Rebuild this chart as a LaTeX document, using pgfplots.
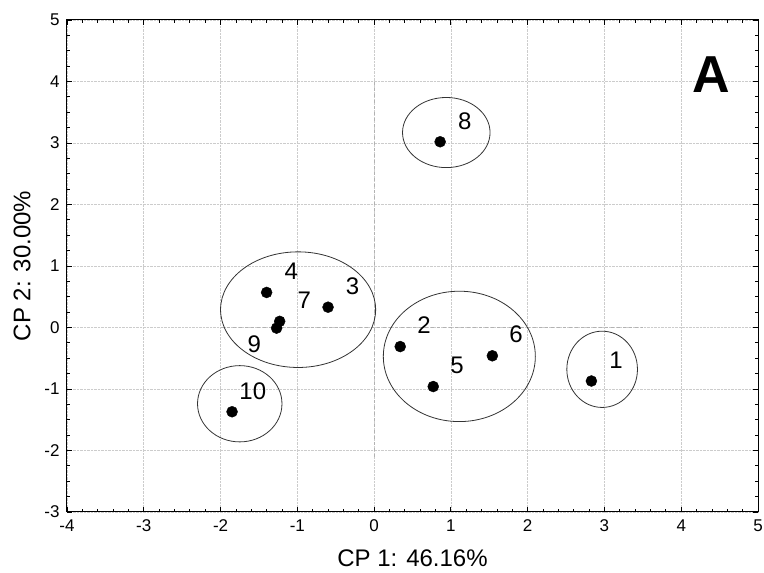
\documentclass[border=0pt]{standalone}
\usepackage{pgfplots}
\pgfplotsset{compat=1.18}
\usepackage{fontspec}
\setmainfont{Liberation Sans}
\newcommand{\tickfont}{\fontsize{17}{19}\selectfont}
\begin{document}
\begin{tikzpicture}
\begin{axis}[
 scale only axis, width=691pt, height=492pt,
 xmin=-4, xmax=5, ymin=-3, ymax=5,
 xtick={-4,...,5}, ytick={-3,...,5},
 minor x tick num=4, minor y tick num=3,
 tick align=inside, major tick length=5pt, minor tick length=3pt,
 tick style={black, line width=0.8pt},
 grid=major, grid style={densely dotted, gray!40, line width=0.6pt},
 axis line style={line width=1pt},
 /pgf/number format/assume math mode=true,
 xticklabel style={font=\tickfont, yshift=-4pt},
 yticklabel style={font=\tickfont, xshift=-4pt},
 xticklabels={-4,-3,-2,-1,0,1,2,3,4,5},
 yticklabels={-3,-2,-1,0,1,2,3,4,5},
 clip=false,
]
% zero lines
\draw[dashed, gray!60, line width=0.7pt] (axis cs:-2.0,0) -- (axis cs:3.5,0);
\draw[dashed, gray!60, line width=0.7pt] (axis cs:0,-2.1) -- (axis cs:0,4.0);
% cluster ellipses
\draw[black!80, line width=0.8pt] (axis cs:-0.99,0.29) ellipse [x radius=1.01, y radius=0.94];
\draw[black!80, line width=0.8pt] (axis cs:1.11,-0.47) ellipse [x radius=0.99, y radius=1.06];
\draw[black!80, line width=0.8pt] (axis cs:2.97,-0.68) ellipse [x radius=0.46, y radius=0.62];
\draw[black!80, line width=0.8pt] (axis cs:-1.75,-1.24) ellipse [x radius=0.55, y radius=0.62];
\draw[black!80, line width=0.8pt] (axis cs:0.94,3.17) ellipse [x radius=0.57, y radius=0.57];
% points
\addplot[only marks, mark=*, mark size=5.5pt, black] table {
x y
2.83 -0.87
0.34 -0.31
-0.60 0.33
-1.40 0.57
0.77 -0.96
1.54 -0.46
-1.23 0.10
0.86 3.02
-1.27 -0.01
-1.85 -1.37
};
% point labels
\addplot[only marks, mark=none, nodes near coords, point meta=explicit symbolic,
  nodes near coords style={anchor=center, font=\fontsize{24}{26}\selectfont}] table[meta=lab] {
x y lab
3.15 -0.53 1
0.65 0.04 2
-0.28 0.67 3
-1.08 0.91 4
1.08 -0.61 5
1.85 -0.11 6
-0.91 0.44 7
1.18 3.35 8
-1.56 -0.27 9
-1.58 -1.03 10
};
\node[font=\fontsize{24}{26}\selectfont, rotate=90] at ([xshift=-45pt]rel axis cs:0,0.5) {CP 2: 30.00\%};
\node[font=\fontsize{24}{26}\selectfont] at ([yshift=-46pt]rel axis cs:0.5,0) {CP 1: 46.16\%};
\node[font=\bfseries\fontsize{52}{56}\selectfont] at (axis cs:4.39,4.11) {A};
\end{axis}
\pgfresetboundingbox
\path[use as bounding box] ([shift={(-67pt,-61pt)}]current axis.south west) rectangle ([shift={(6pt,20pt)}]current axis.north east);
\end{tikzpicture}
\end{document}
